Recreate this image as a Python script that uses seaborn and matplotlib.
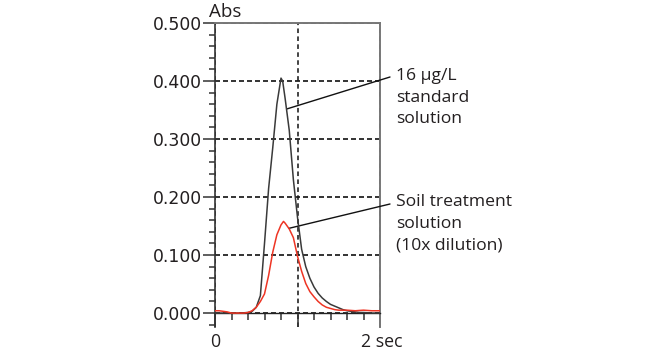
import matplotlib
matplotlib.use("Agg")
import matplotlib.pyplot as plt
import matplotlib.transforms as mtransforms
from matplotlib.ticker import MultipleLocator, FormatStrFormatter
import seaborn as sns
import pandas as pd

# ---- data ----
std_time = [0.0, 0.1, 0.2, 0.3, 0.4, 0.45, 0.5, 0.55, 0.6, 0.65, 0.7, 0.75, 0.8, 0.82,
            0.85, 0.9, 0.95, 1.0, 1.05, 1.1, 1.15, 1.2, 1.25, 1.3, 1.35, 1.4, 1.45,
            1.5, 1.55, 1.6, 1.65, 1.7, 1.75, 1.8, 1.9, 2.0]
std_abs = [0.0, 0.0, 0.0, 0.0, 0.001, 0.003, 0.01, 0.03, 0.12, 0.215, 0.285, 0.36, 0.405, 0.40,
           0.37, 0.315, 0.23, 0.165, 0.11, 0.08, 0.06, 0.045, 0.034, 0.026, 0.02, 0.015, 0.012,
           0.009, 0.006, 0.004, 0.003, 0.002, 0.001, 0.001, 0.0, 0.0]

soil_time = [0.0, 0.05, 0.1, 0.15, 0.2, 0.25, 0.3, 0.35, 0.4, 0.45, 0.5, 0.55, 0.6, 0.65,
             0.7, 0.75, 0.8, 0.83, 0.85, 0.9, 0.95, 1.0, 1.05, 1.1, 1.15, 1.2, 1.25, 1.3,
             1.35, 1.4, 1.45, 1.5, 1.6, 1.7, 1.8, 1.9, 2.0]
soil_abs = [0.004, 0.004, 0.003, 0.002, 0.0, 0.0, 0.0, 0.0, 0.001, 0.004, 0.01, 0.02, 0.033, 0.065,
            0.105, 0.135, 0.152, 0.158, 0.155, 0.145, 0.13, 0.098, 0.072, 0.051, 0.037, 0.028,
            0.02, 0.014, 0.01, 0.008, 0.006, 0.005, 0.005, 0.004, 0.005, 0.004, 0.004]

y_ticks = [0.0, 0.1, 0.2, 0.3, 0.4, 0.5]
x_ticks = [0, 1, 2]
x_tick_labels = ["0", "", "2 sec"]
y_axis_title = "Abs"
label_std = "16 µg/L\nstandard\nsolution"
label_soil = "Soil treatment\nsolution\n(10x dilution)"

sns.set_style("white")
plt.rcParams["font.family"] = ["Open Sans", "DejaVu Sans"]

TXT = "#231f20"
W, H = 670, 354
fig = plt.figure(figsize=(W / 100, H / 100), dpi=100)
ax = fig.add_axes([215 / W, 1 - 327 / H, 165 / W, (327 - 23) / H])

std_df = pd.DataFrame({"t": std_time, "abs": std_abs})
soil_df = pd.DataFrame({"t": soil_time, "abs": soil_abs})
sns.lineplot(data=std_df, x="t", y="abs", ax=ax, color="#3a3a3a", lw=1.1, zorder=4)
sns.lineplot(data=soil_df, x="t", y="abs", ax=ax, color="#ee3524", lw=1.1, zorder=5)

ax.set_xlim(0, 2)
ax.set_ylim(-0.024, 0.5)
ax.set_xlabel("")
ax.set_ylabel("")

# spines
ax.spines["left"].set_color("#333333")
ax.spines["left"].set_linewidth(1.2)
for s in ["right", "top"]:
    ax.spines[s].set_color("#777777")
    ax.spines[s].set_linewidth(1.4)
ax.spines["bottom"].set_position(("data", 0))
ax.spines["bottom"].set_color("#222222")
ax.spines["bottom"].set_linewidth(1.0)

# ticks
ax.set_yticks(y_ticks)
ax.yaxis.set_major_formatter(FormatStrFormatter("%.3f"))
ax.yaxis.set_minor_locator(MultipleLocator(0.02))
ax.set_xticks(x_ticks)
ax.set_xticklabels(x_tick_labels)
ax.xaxis.set_minor_locator(MultipleLocator(0.2))
ax.tick_params(axis="y", which="major", direction="out", length=8.6, width=1.1,
               color="#333333", pad=1, labelsize=12.4, labelcolor=TXT, left=True)
ax.tick_params(axis="y", which="minor", direction="out", length=4.3, width=1.1,
               color="#333333", left=True)
ax.tick_params(axis="x", which="major", direction="out", length=10, width=1.1,
               color="#333333", pad=4, labelsize=12.8, labelcolor=TXT, bottom=True)
ax.tick_params(axis="x", which="minor", direction="out", length=5, width=1.1,
               color="#333333", bottom=True)
for lab in ax.get_yticklabels():
    lab.set_fontfamily(["DejaVu Sans"])
    lab.set_fontsize(12.4)
lbls = ax.get_xticklabels()
lbls[2].set_transform(lbls[2].get_transform() +
                      mtransforms.ScaledTranslation(2 / 100, 0, fig.dpi_scale_trans))

# dashed grid
ax.grid(True, axis="y", which="major", color="#111111", lw=1.2, ls=(0, (3, 1.8)))
ax.grid(True, axis="x", which="major", color="#111111", lw=1.1, ls=(0, (3, 2.2)))
ax.set_axisbelow(True)

# y axis title
fig.text(209 / W, 1 - 17 / H, y_axis_title, fontsize=13.5, color=TXT,
         ha="left", va="baseline")

# annotations
ax.annotate("", xy=(0.874, 0.352), xycoords="data",
            xytext=(390, H - 77), textcoords="figure pixels",
            arrowprops=dict(arrowstyle="-", color="#111111", lw=1.0,
                            shrinkA=0, shrinkB=0))
ax.annotate("", xy=(0.894, 0.146), xycoords="data",
            xytext=(390, H - 204), textcoords="figure pixels",
            arrowprops=dict(arrowstyle="-", color="#111111", lw=1.0,
                            shrinkA=0, shrinkB=0))
fig.text(396 / W, 1 - 68 / H, label_std, fontsize=12.6, color=TXT,
         ha="left", va="top", linespacing=1.46)
fig.text(396 / W, 1 - 194 / H, label_soil, fontsize=12.6, color=TXT,
         ha="left", va="top", linespacing=1.46)

fig.savefig("out.png", dpi=100)
